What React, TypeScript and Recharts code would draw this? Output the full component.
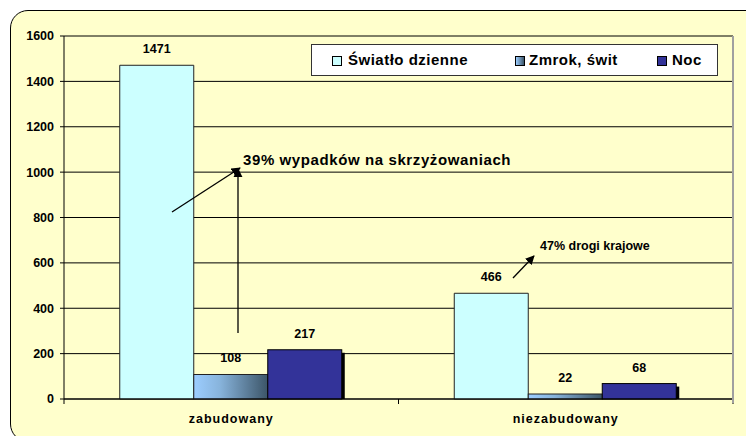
import React from 'react';
import { BarChart, Bar, XAxis, YAxis, CartesianGrid, LabelList } from 'recharts';

const categories = ['zabudowany', 'niezabudowany'];
const dayValues = [1471, 466];
const duskValues = [108, 22];
const nightValues = [217, 68];
const yTicks = [0, 200, 400, 600, 800, 1000, 1200, 1400, 1600];
const seriesNames = ['Światło dzienne', 'Zmrok, świt', 'Noc'];
const noteMain = '39% wypadków na skrzyżowaniach';
const noteSecond = '47% drogi krajowe';

const data = categories.map((c, i) => ({
  category: c,
  day: dayValues[i],
  dusk: duskValues[i],
  night: nightValues[i],
}));

const FONT = '"Liberation Sans", Arial, sans-serif';
const W = 746;
const H = 436;
const M = { top: 36, right: 13, left: 0, bottom: 0 };
const Y_W = 64;
const X_H = 37;
const plotW = W - M.left - M.right - Y_W;
const bandHalf = plotW / categories.length / 2;

const DAY = '#CCFFFF';
const NIGHT = '#333399';

const ShadowBar = (props: any) => {
  const { x, y, width, height, fill } = props;
  if (!width || height == null) return null;
  return (
    <g>
      <rect x={x + 3} y={y + 3} width={width} height={Math.max(height - 3, 0)} fill="#000" />
      <rect x={x} y={y} width={width} height={height} fill={fill} stroke="#000" strokeWidth={1} />
    </g>
  );
};

const GradBar = (props: any) => {
  const { x, y, width, height, index } = props;
  if (!width || height == null) return null;
  const id = `duskGrad${index}`;
  return (
    <g>
      <defs>
        <linearGradient id={id} x1="0" y1="0" x2="1" y2="0">
          <stop offset="0" stopColor="#9CCDFF" />
          <stop offset="0.35" stopColor="#88B4DC" />
          <stop offset="1" stopColor="#3C5568" />
        </linearGradient>
      </defs>
      <rect x={x} y={y} width={width} height={height} fill={`url(#${id})`} stroke="#222" strokeWidth={1} />
    </g>
  );
};

const CatTick = (props: any) => {
  const { x, y, payload } = props;
  return (
    <g>
      <line x1={x - bandHalf} y1={y} x2={x - bandHalf} y2={y + 5} stroke="#000" />
      <line x1={x + bandHalf} y1={y} x2={x + bandHalf} y2={y + 5} stroke="#000" />
      <text
        x={x}
        y={y + 24}
        textAnchor="middle"
        fill="#000"
        style={{ fontFamily: FONT, fontWeight: 700, fontSize: 12.5, letterSpacing: 1 }}
      >
        {payload.value}
      </text>
    </g>
  );
};

const labelStyle = { fontFamily: FONT, fontWeight: 700, fontSize: 12.5 };

const legendMarkers = [
  { bg: DAY },
  { bg: 'linear-gradient(to right, #9CCDFF, #3C5568)' },
  { bg: NIGHT },
];
const legendPos = [
  { m: 332, t: 348 },
  { m: 515, t: 529 },
  { m: 657, t: 672 },
];

export default function App() {
  return (
    <div
      style={{
        position: 'absolute',
        left: 0,
        top: 0,
        width: W,
        height: H,
        overflow: 'hidden',
        background: '#fff',
        fontFamily: FONT,
      }}
    >
      <div
        style={{
          position: 'absolute',
          left: 10,
          top: 10,
          width: 770,
          height: 432,
          borderRadius: 18,
          border: '1.5px solid #000',
          background: '#FFFFCC',
          boxSizing: 'border-box',
        }}
      />
      <div style={{ position: 'absolute', left: 0, top: 0 }}>
        <BarChart width={W} height={H} data={data} margin={M} barGap={0} barCategoryGap="16.67%">
          <CartesianGrid horizontal vertical={false} stroke="#000" strokeWidth={1} />
          <XAxis
            dataKey="category"
            height={X_H}
            tickSize={0}
            tickMargin={0}
            tickLine={false}
            axisLine={{ stroke: '#000', strokeWidth: 1 }}
            tick={<CatTick />}
            interval={0}
          />
          <YAxis
            width={Y_W}
            domain={[0, 1600]}
            ticks={yTicks}
            interval={0}
            tickSize={4}
            tickMargin={6}
            tickLine={{ stroke: '#000' }}
            axisLine={{ stroke: '#000', strokeWidth: 1 }}
            tick={{ fill: '#000', fontFamily: FONT, fontWeight: 700, fontSize: 12.5 }}
          />
          <Bar dataKey="day" name={seriesNames[0]} fill={DAY} stroke="#222" strokeWidth={1} isAnimationActive={false}>
            <LabelList dataKey="day" position="top" offset={12} fill="#000" style={labelStyle} />
          </Bar>
          <Bar dataKey="dusk" name={seriesNames[1]} fill="#88B4DC" shape={<GradBar />} isAnimationActive={false}>
            <LabelList dataKey="dusk" position="top" offset={12} fill="#000" style={labelStyle} />
          </Bar>
          <Bar dataKey="night" name={seriesNames[2]} fill={NIGHT} shape={<ShadowBar />} isAnimationActive={false}>
            <LabelList dataKey="night" position="top" offset={12} fill="#000" style={labelStyle} />
          </Bar>
        </BarChart>
      </div>
      <svg
        width={W}
        height={H}
        style={{ position: 'absolute', left: 0, top: 0, pointerEvents: 'none' }}
      >
        <defs>
          <marker id="arrow" viewBox="0 0 10 10" refX="9" refY="5" markerWidth="7" markerHeight="7" orient="auto-start-reverse">
            <path d="M0,0 L10,5 L0,10 z" fill="#000" />
          </marker>
        </defs>
        <line x1={733} y1={36} x2={733} y2={403} stroke="#A0A0A0" strokeWidth={2} />
        <line x1={172} y1={212} x2={240} y2={168} stroke="#000" strokeWidth={1.3} markerEnd="url(#arrow)" />
        <line x1={238} y1={333} x2={238} y2={169} stroke="#000" strokeWidth={1.3} markerEnd="url(#arrow)" />
        <line x1={513} y1={278} x2={534} y2={256} stroke="#000" strokeWidth={1.3} markerEnd="url(#arrow)" />
        <text x={243} y={165} fill="#000" style={{ fontFamily: FONT, fontWeight: 700, fontSize: 15, letterSpacing: 0.6 }}>
          {noteMain}
        </text>
        <text x={540} y={250} fill="#000" style={{ fontFamily: FONT, fontWeight: 700, fontSize: 12.5 }}>
          {noteSecond}
        </text>
      </svg>
      <div
        style={{
          position: 'absolute',
          left: 311,
          top: 44,
          width: 407,
          height: 32,
          border: '1px solid #333',
          background: '#fff',
          boxSizing: 'border-box',
        }}
      />
      {seriesNames.map((n, i) => (
        <React.Fragment key={n}>
          <div
            style={{
              position: 'absolute',
              left: legendPos[i].m,
              top: 56,
              width: 10,
              height: 10,
              boxSizing: 'border-box',
              border: '1px solid #000',
              background: legendMarkers[i].bg,
            }}
          />
          <div
            style={{
              position: 'absolute',
              left: legendPos[i].t,
              top: 51,
              fontFamily: FONT,
              fontWeight: 700,
              fontSize: 15,
              letterSpacing: 0.5,
              lineHeight: '18px',
              color: '#000',
              whiteSpace: 'nowrap',
            }}
          >
            {n}
          </div>
        </React.Fragment>
      ))}
    </div>
  );
}
